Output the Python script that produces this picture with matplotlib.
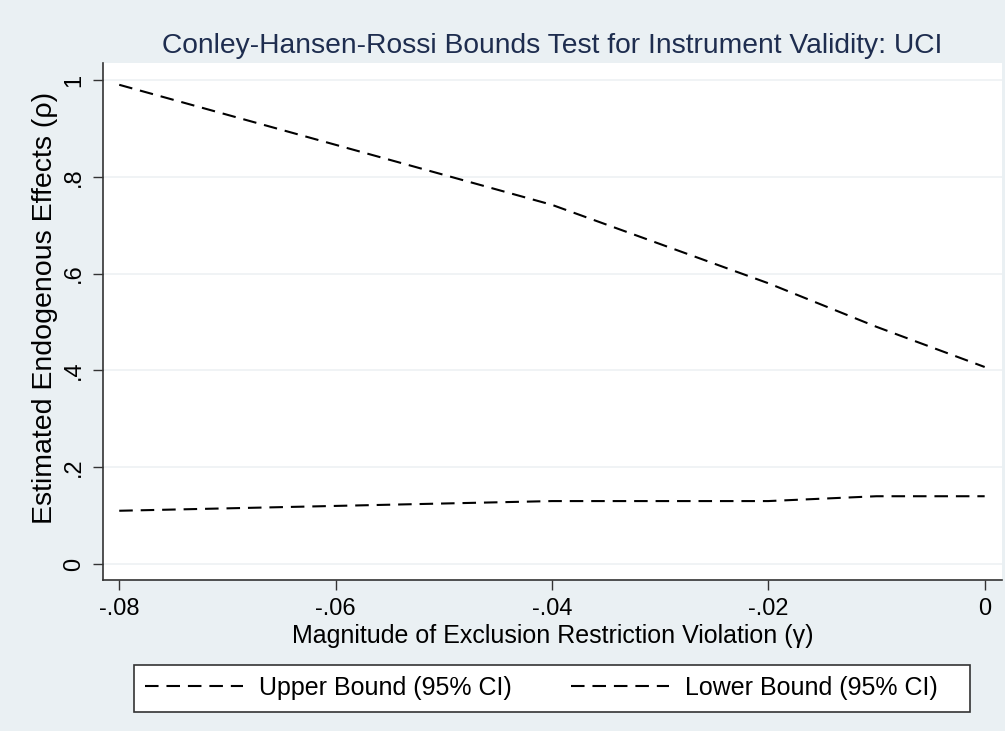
import matplotlib.pyplot as plt
from matplotlib.patches import Rectangle

plt.rcParams['font.family'] = ['Liberation Sans', 'DejaVu Sans']

# Conley-Hansen-Rossi bounds over the exclusion restriction violation grid
gamma = [-0.08, -0.06, -0.04, -0.02, -0.01, 0.0]
upper = [0.99, 0.866, 0.742, 0.58, 0.49, 0.407]
lower = [0.11, 0.12, 0.13, 0.13, 0.14, 0.14]

xticks = [-0.08, -0.06, -0.04, -0.02, 0.0]
xtick_labels = ['-.08', '-.06', '-.04', '-.02', '0']
yticks = [0, 0.2, 0.4, 0.6, 0.8, 1.0]
ytick_labels = ['0', '.2', '.4', '.6', '.8', '1']

bg = '#eaf0f3'
fig = plt.figure(figsize=(10.05, 7.31), dpi=100, facecolor=bg)
ax = fig.add_axes([0.1025, 0.2066, 0.8945, 0.7072])
ax.set_facecolor('white')

ax.plot(gamma, upper, color='black', lw=1.5, dashes=(6.5, 3.8), label='Upper Bound (95% CI)')
ax.plot(gamma, lower, color='black', lw=1.5, dashes=(6.5, 3.8), label='Lower Bound (95% CI)')

ax.set_xlim(-0.0815, 0.0016)
ax.set_ylim(-0.033, 1.035)
ax.set_xticks(xticks)
ax.set_xticklabels(xtick_labels)
ax.set_yticks(yticks)
ax.set_yticklabels(ytick_labels, rotation=90, va='center')
ax.grid(axis='y', color='#eef1f3', lw=1.2)
ax.set_axisbelow(True)

for s in ['top', 'right']:
    ax.spines[s].set_visible(False)
for s in ['left', 'bottom']:
    ax.spines[s].set_color('#333333')
    ax.spines[s].set_linewidth(1.2)
ax.tick_params(axis='both', length=7, width=1.0, color='#333333', labelsize=17, pad=6)

ax.set_title('Conley-Hansen-Rossi Bounds Test for Instrument Validity: UCI',
             fontsize=20.3, color='#1e2d4f', pad=7)
ax.set_xlabel('Magnitude of Exclusion Restriction Violation (γ)', fontsize=18, labelpad=3)
ax.set_ylabel('Estimated Endogenous Effects (ρ)', fontsize=20.5)
ax.yaxis.label.set_va('center')
ax.yaxis.set_label_coords(-0.0645, 0.526)

# legend box spans the plot width, entries sit to the left
fig.patches.append(Rectangle((0.1333, 0.026), 0.832, 0.0643, transform=fig.transFigure,
                             facecolor='white', edgecolor='#333333', lw=1.2, zorder=1))
leg = fig.legend(loc='center left', bbox_to_anchor=(0.1443, 0.0588),
                 ncol=2, fontsize=18, handlelength=3.9, handletextpad=0.64,
                 columnspacing=2.4, frameon=False, borderpad=0, borderaxespad=0)
leg.set_zorder(2)

fig.savefig('out.png', dpi=100, facecolor=bg)
